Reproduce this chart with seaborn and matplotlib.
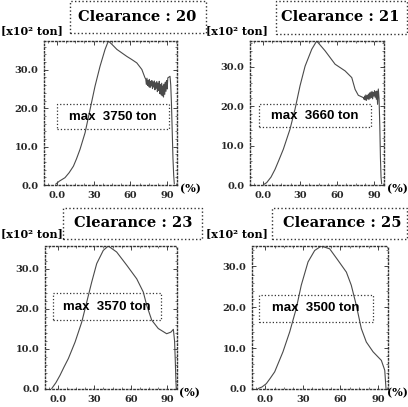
import matplotlib
matplotlib.use("Agg")
import matplotlib.pyplot as plt
from matplotlib.patches import Rectangle
import seaborn as sns

# clearance values and max loads (ton)
clearances = [20, 21, 23, 25]
max_loads = [3750, 3660, 3570, 3500]

# load curves, stroke (%) vs load (x10^2 ton)
c20_x = [-1.0, 2.0, 6.6, 10.0, 13.5, 16.0, 18.9, 23.0, 27.1, 31.1, 35.2, 39.3, 42.0,
         45.0, 49.0, 53.0, 57.0, 61.0, 65.2, 69.3, 71.9,
         72.5, 73.0, 73.5, 74.0, 74.5, 75.0, 75.5, 76.0, 76.5, 77.0, 77.5, 78.0,
         78.5, 79.0, 79.5, 80.0, 80.5, 81.0, 81.5, 82.0, 82.5, 83.0, 83.5, 84.0,
         84.5, 85.0, 85.5, 86.0, 86.5, 87.0, 87.5, 88.0, 88.5, 89.0, 89.5, 90.0,
         90.5, 92.3, 92.9, 93.5, 94.1, 94.7, 95.3, 95.8]
c20_y = [0.2, 1.0, 1.9, 3.2, 4.9, 6.8, 9.3, 13.6, 19.7, 25.7, 30.9, 35.3, 37.5,
         36.6, 35.3, 34.4, 33.5, 32.7, 31.8, 30.1, 27.9,
         27.6, 26.2, 27.8, 25.9, 27.3, 25.6, 27.5, 25.4, 27.0, 25.8, 27.2, 25.1,
         26.8, 25.5, 27.1, 24.8, 26.6, 25.2, 26.9, 24.3, 26.4, 24.6, 27.0, 23.8,
         26.2, 23.5, 26.5, 23.2, 25.8, 22.9, 26.3, 23.6, 26.8, 24.4, 27.2, 25.0,
         27.9, 28.3, 26.0, 21.0, 14.0, 7.0, 2.5, 0.3]

c21_x = [0.5, 3.0, 6.5, 9.8, 13.0, 16.5, 21.9, 25.9, 30.0, 34.1, 39.5, 43.5,
         50.3, 58.4, 66.5, 71.9, 74.6, 77.2, 80.0, 81.3,
         81.8, 82.3, 82.8, 83.3, 83.8, 84.3, 84.8, 85.3, 85.8, 86.3, 86.8, 87.3,
         87.8, 88.3, 88.8, 89.3, 89.8, 90.3, 90.8, 91.3, 91.8, 92.3, 92.8, 93.4,
         94.0, 94.6, 95.1, 95.6, 96.1]
c21_y = [0.1, 0.6, 2.0, 4.0, 6.4, 9.1, 14.2, 19.2, 25.2, 30.2, 34.5, 36.6,
         34.1, 30.7, 29.0, 27.3, 24.3, 22.8, 22.4, 22.2,
         21.8, 22.6, 21.6, 22.9, 21.5, 22.7, 21.9, 23.1, 21.7, 23.4, 22.0, 23.6,
         22.2, 23.8, 21.9, 23.5, 22.6, 24.0, 22.3, 23.7, 21.8, 23.9, 20.5, 24.4,
         22.0, 15.0, 7.0, 2.0, 0.3]

c23_x = [-5.0, -1.5, 1.8, 5.0, 8.7, 14.2, 19.7, 23.8, 27.9, 32.0, 37.4, 41.5,
         48.4, 56.7, 64.9, 70.3, 73.1, 77.2, 82.6, 89.5, 93.0, 95.0, 96.0,
         96.6, 97.1, 97.4]
c23_y = [0.1, 1.6, 3.4, 5.4, 7.6, 11.7, 16.7, 21.7, 26.7, 31.3, 34.6, 35.7,
         34.2, 30.9, 27.5, 24.2, 20.9, 17.2, 15.1, 13.8, 14.2, 14.9, 12.0,
         7.0, 2.0, 0.0]

c25_x = [-5.7, -2.5, 0.9, 4.0, 7.6, 14.2, 19.6, 24.8, 28.8, 34.2, 39.5, 44.8,
         51.5, 58.1, 64.8, 68.7, 72.7, 76.7, 80.7, 86.1, 92.7, 95.4, 96.4]
c25_y = [0.1, 0.5, 1.3, 2.6, 4.2, 9.1, 14.0, 19.7, 25.4, 31.1, 33.9, 35.0,
         34.3, 31.5, 28.6, 25.4, 20.5, 14.8, 11.5, 9.1, 7.0, 4.6, 0.1]

curves = [(c20_x, c20_y), (c21_x, c21_y), (c23_x, c23_y), (c25_x, c25_y)]

x_ticks = [0, 30, 60, 90]
x_ticklabels = ["0.0", "30", "60", "90"]
y_ticks = [0, 10, 20, 30]
y_ticklabels = ["0.0", "10.0", "20.0", "30.0"]

W, H = 408, 407

# axes boxes in pixels: left, top, right, bottom
ax_px = [(44, 41, 177, 185), (250, 41, 384, 185),
         (45, 246, 177, 389), (252, 246, 388, 389)]
# title boxes in pixels
title_px = [(70, 1, 206, 33), (276, 1, 407, 34),
            (63, 208, 202, 239), (272, 208, 407, 239)]
title_c = [(137, 17), (340, 17), (133, 223), (342, 223)]
ylab_pos = [(1, 31), (206, 31), (1, 234), (206, 234)]
pct_pos = [(190, 189), (397, 189), (189, 393), (397, 393)]
# max box in axes fraction: x0, x1, y0, y1
maxbox = [(0.10, 0.94, 0.39, 0.56), (0.07, 0.90, 0.40, 0.56),
          (0.06, 0.88, 0.48, 0.67), (0.05, 0.89, 0.47, 0.66)]

sns.set_theme(style="white")
serif = ["DejaVu Serif"]

fig = plt.figure(figsize=(W / 100, H / 100), dpi=100)
fig.patch.set_facecolor("white")

for i in range(4):
    l, t, r, b = ax_px[i]
    ax = fig.add_axes([l / W, 1 - b / H, (r - l) / W, (b - t) / H])
    xs, ys = curves[i]
    sns.lineplot(x=xs, y=ys, ax=ax, sort=False, estimator=None,
                 color="#4a4a4a", linewidth=0.8)
    ax.set_xlim(-10.5, 98)
    ax.set_ylim(0, max_loads[i] / 100)
    ax.set_xticks(x_ticks)
    ax.set_xticklabels(x_ticklabels, family=serif, weight="bold", fontsize=7)
    ax.set_yticks(y_ticks)
    ax.set_yticklabels(y_ticklabels, family=serif, weight="bold", fontsize=7)
    ax.minorticks_on()
    ax.tick_params(which="both", direction="in", top=True, right=True,
                   bottom=True, left=True, color="#444444", pad=4)
    ax.tick_params(which="major", length=3, width=0.7)
    ax.tick_params(which="minor", length=1.5, width=0.5)
    for s in ax.spines.values():
        s.set_linestyle(":")
        s.set_color("#333333")
        s.set_linewidth(1.0)

    x0, x1, y0, y1 = maxbox[i]
    ax.add_patch(Rectangle((x0, y0), x1 - x0, y1 - y0, transform=ax.transAxes,
                           fill=False, linestyle=":", linewidth=0.9,
                           edgecolor="#333333", clip_on=False))
    ax.text((x0 + x1) / 2, (y0 + y1) / 2, "max  %d ton" % max_loads[i],
            transform=ax.transAxes, ha="center", va="center",
            family=["Liberation Sans"], weight="bold", fontsize=9.5,
            color="black")

    # title box
    tl, tt, tr, tb = title_px[i]
    fig.add_artist(Rectangle((tl / W, 1 - tb / H), (tr - tl) / W, (tb - tt) / H,
                             transform=fig.transFigure, fill=False,
                             linestyle=":", linewidth=1.0, edgecolor="#333333"))
    cx, cy = title_c[i]
    fig.text(cx / W, 1 - cy / H, "Clearance : %d" % clearances[i],
             ha="center", va="center", family=serif, weight="bold",
             fontsize=10.5, color="black")

    lx, ly = ylab_pos[i]
    fig.text(lx / W, 1 - ly / H, "[x10² ton]", ha="left", va="center",
             family=serif, weight="bold", fontsize=8, color="black")
    px, py = pct_pos[i]
    fig.text(px / W, 1 - py / H, "(%)", ha="center", va="center",
             family=serif, weight="bold", fontsize=8, color="black")

fig.savefig("out.png", dpi=100, facecolor="white")
